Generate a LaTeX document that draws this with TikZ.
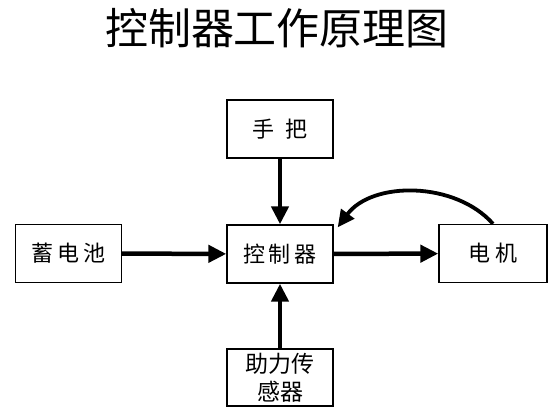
\documentclass[tikz,border=0pt]{standalone}
\usepackage{fontspec}
\usetikzlibrary{arrows.meta}
\newfontfamily\cjk{Noto Sans CJK SC}

\begin{document}
\begin{tikzpicture}[x=1pt, y=-1pt,
    box/.style={draw, line width=1.4pt, minimum width=106pt, minimum height=58pt,
                inner sep=0pt, font=\cjk\fontsize{22}{28}\selectfont},
    arr/.style={line width=4.5pt, -{Triangle[length=18pt,width=17pt]}}]
    \useasboundingbox (0,0) rectangle (555,416);
    % title
    \node (title) at (277,28) {\cjk\fontsize{43}{48}\selectfont 控制器工作原理图};
    % blocks
    \node[box] (handle)  at (280,129)   {手\hspace{12pt}把};
    \node[box] (ctrl)    at (280,254)   {控\hspace{4pt}制\hspace{4pt}器};
    \node[box] (battery) at (68.5,253.5) {蓄\hspace{4pt}电\hspace{4pt}池};
    \node[box, minimum width=108pt] (motor) at (493,253.5) {电\hspace{5pt}机};
    \node[box, minimum height=57pt, align=center,
          font=\cjk\fontsize{23}{28}\selectfont] (sensor) at (280,377.5) {助力传\\感器};
    % arrows
    \draw[arr] (handle) -- (ctrl);
    \draw[arr] (battery) -- (ctrl);
    \draw[arr] (ctrl) -- (motor);
    \draw[arr] (sensor) -- (ctrl);
    \draw[line width=3.8pt, -{Triangle[length=17pt,width=16pt]}]
        (motor.north) .. controls (455,181) and (372,181) .. ([xshift=4pt,yshift=-3pt]ctrl.north east);
\end{tikzpicture}
\end{document}
